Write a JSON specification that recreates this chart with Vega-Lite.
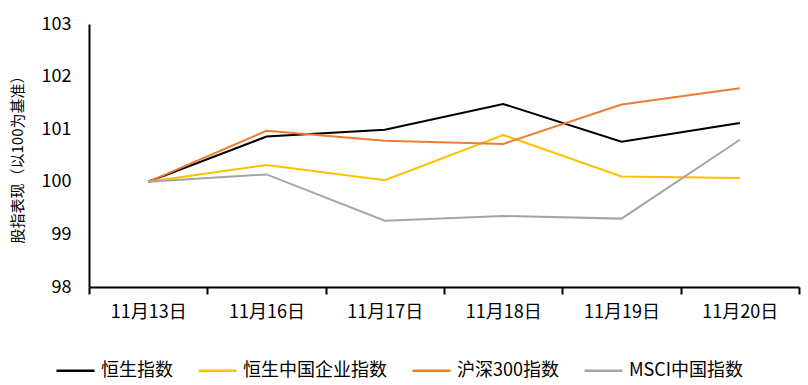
{
  "$schema": "https://vega.github.io/schema/vega-lite/v6.json",
  "width": 710,
  "height": 263,
  "autosize": {"type": "none"},
  "padding": {"left": 89, "top": 24, "right": 9, "bottom": 98},
  "background": "white",
  "config": {
    "view": {"stroke": null},
    "font": "Noto Sans CJK SC"
  },
  "data": {
    "values": [
      {"date": "11月13日", "series": "恒生指数", "value": 100},
      {"date": "11月16日", "series": "恒生指数", "value": 100.86},
      {"date": "11月17日", "series": "恒生指数", "value": 100.99},
      {"date": "11月18日", "series": "恒生指数", "value": 101.48},
      {"date": "11月19日", "series": "恒生指数", "value": 100.76},
      {"date": "11月20日", "series": "恒生指数", "value": 101.12},
      {"date": "11月13日", "series": "恒生中国企业指数", "value": 100},
      {"date": "11月16日", "series": "恒生中国企业指数", "value": 100.32},
      {"date": "11月17日", "series": "恒生中国企业指数", "value": 100.03},
      {"date": "11月18日", "series": "恒生中国企业指数", "value": 100.89},
      {"date": "11月19日", "series": "恒生中国企业指数", "value": 100.1},
      {"date": "11月20日", "series": "恒生中国企业指数", "value": 100.07},
      {"date": "11月13日", "series": "沪深300指数", "value": 100},
      {"date": "11月16日", "series": "沪深300指数", "value": 100.97},
      {"date": "11月17日", "series": "沪深300指数", "value": 100.78},
      {"date": "11月18日", "series": "沪深300指数", "value": 100.72},
      {"date": "11月19日", "series": "沪深300指数", "value": 101.47},
      {"date": "11月20日", "series": "沪深300指数", "value": 101.78},
      {"date": "11月13日", "series": "MSCI中国指数", "value": 100},
      {"date": "11月16日", "series": "MSCI中国指数", "value": 100.14},
      {"date": "11月17日", "series": "MSCI中国指数", "value": 99.26},
      {"date": "11月18日", "series": "MSCI中国指数", "value": 99.35},
      {"date": "11月19日", "series": "MSCI中国指数", "value": 99.3},
      {"date": "11月20日", "series": "MSCI中国指数", "value": 100.8}
    ]
  },
  "mark": {"type": "line", "strokeWidth": 2},
  "encoding": {
    "x": {
      "field": "date",
      "type": "ordinal",
      "sort": null,
      "scale": {"type": "band", "paddingInner": 0, "paddingOuter": 0},
      "axis": {
        "title": null,
        "labelAngle": 0,
        "labelFontSize": 18,
        "labelColor": "#000000",
        "labelPadding": 9,
        "tickBand": "extent",
        "tickSize": 7,
        "tickWidth": 2,
        "tickColor": "#000000",
        "domainColor": "#000000",
        "domainWidth": 2,
        "grid": false
      }
    },
    "y": {
      "field": "value",
      "type": "quantitative",
      "scale": {"domain": [98, 103], "nice": false, "zero": false},
      "axis": {
        "title": "股指表现（以100为基准）",
        "titleFontSize": 15,
        "titleFontWeight": "normal",
        "titleColor": "#000000",
        "titlePadding": 16,
        "values": [98, 99, 100, 101, 102, 103],
        "labelFontSize": 18,
        "labelColor": "#000000",
        "labelPadding": 18,
        "ticks": false,
        "grid": false,
        "domainColor": "#000000",
        "domainWidth": 2
      }
    },
    "color": {
      "field": "series",
      "type": "nominal",
      "scale": {
        "domain": ["恒生指数", "恒生中国企业指数", "沪深300指数", "MSCI中国指数"],
        "range": ["#000000", "#FFC000", "#ED7D31", "#A5A5A5"]
      },
      "legend": {
        "title": null,
        "orient": "none",
        "direction": "horizontal",
        "legendX": -34,
        "legendY": 326,
        "symbolType": "stroke",
        "symbolSize": 1444,
        "symbolStrokeWidth": 2.5,
        "labelFontSize": 18,
        "labelColor": "#000000",
        "columnPadding": 20,
        "labelOffset": 5
      }
    }
  }
}
